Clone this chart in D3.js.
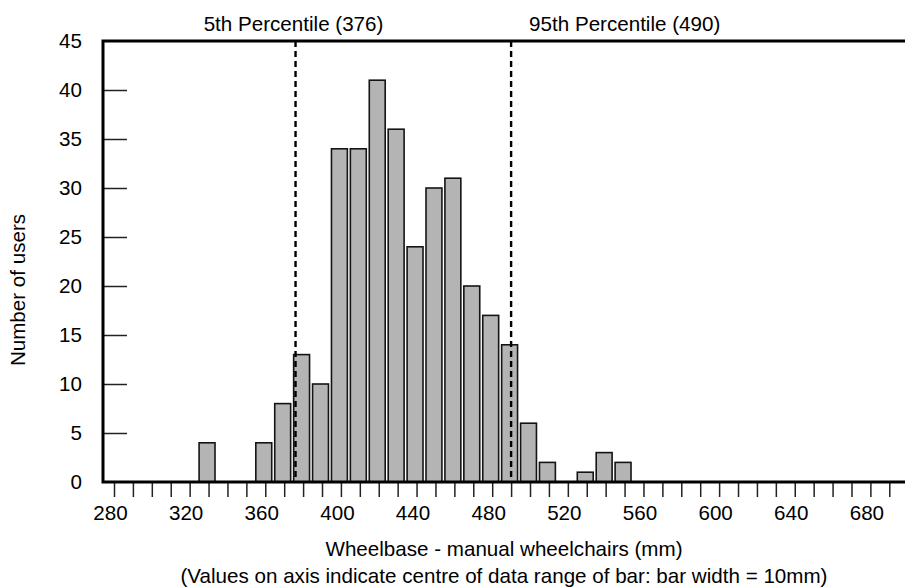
<!DOCTYPE html>
<html>
<head>
<meta charset="utf-8">
<script src="https://cdn.jsdelivr.net/npm/d3@7"></script>
<style>
  html, body { margin: 0; padding: 0; background: #fff; }
  svg { display: block; font-family: "Liberation Sans", Arial, Helvetica, sans-serif; }
</style>
</head>
<body>
<svg id="chart" width="905" height="587"></svg>
<script>
// Bin centres (mm) and number of users in each 10 mm bin
const binCentres = [330, 340, 350, 360, 370, 380, 390, 400, 410, 420, 430, 440, 450, 460, 470, 480, 490, 500, 510, 520, 530, 540, 550];
const userCounts = [4, 0, 0, 4, 8, 13, 10, 34, 34, 41, 36, 24, 30, 31, 20, 17, 14, 6, 2, 0, 1, 3, 2];
const binWidth = 10;

// Percentile markers
const percentileNames = ["5th Percentile", "95th Percentile"];
const percentileValues = [376, 490];

// Axis ticks
const xTickValues = d3.range(280, 700, 10);
const xTickLabels = [280, 320, 360, 400, 440, 480, 520, 560, 600, 640, 680];
const yTickValues = [0, 5, 10, 15, 20, 25, 30, 35, 40, 45];

const plotLeft = 103, plotTop = 41, plotBottom = 482, plotRight = 905;
const fontSize = 20.6;
const fontFamily = "Liberation Sans, Arial, sans-serif";

const svg = d3.select("#chart");

const x = d3.scaleLinear().domain([280, 690]).range([114, 889.3]);
const y = d3.scaleLinear().domain([0, 45]).range([plotBottom, plotTop]);

// Bars
svg.append("g")
  .selectAll("rect")
  .data(binCentres.map((c, i) => ({ c, n: userCounts[i] })).filter(d => d.n > 0))
  .join("rect")
  .attr("x", d => x(d.c - binWidth / 2))
  .attr("width", d => x(d.c + binWidth / 2) - x(d.c - binWidth / 2) - 3)
  .attr("y", d => y(d.n))
  .attr("height", d => y(0) - y(d.n))
  .attr("fill", "#b4b4b4")
  .attr("stroke", "#141414")
  .attr("stroke-width", 1.6);

// Percentile lines
svg.append("g")
  .selectAll("line")
  .data(percentileValues)
  .join("line")
  .attr("x1", d => x(d)).attr("x2", d => x(d))
  .attr("y1", plotTop).attr("y2", plotBottom)
  .attr("stroke", "#000")
  .attr("stroke-width", 2.4)
  .attr("stroke-dasharray", "6,4");

// Percentile labels
svg.append("text")
  .attr("x", x(percentileValues[0]) - 2)
  .attr("y", 31)
  .attr("text-anchor", "middle")
  .attr("font-size", fontSize)
  .text(`${percentileNames[0]} (${percentileValues[0]})`);
svg.append("text")
  .attr("x", x(percentileValues[1]) + 18)
  .attr("y", 31)
  .attr("text-anchor", "start")
  .attr("font-size", fontSize)
  .text(`${percentileNames[1]} (${percentileValues[1]})`);

// X axis: ticks below the baseline
const xAxis = d3.axisBottom(x)
  .tickValues(xTickValues)
  .tickSize(15)
  .tickFormat(d => xTickLabels.includes(d) ? d : "");
const gx = svg.append("g").attr("transform", `translate(0,${plotBottom})`).call(xAxis);
gx.select(".domain").remove();
gx.selectAll(".tick line").attr("stroke", "#222").attr("stroke-width", 1.5);
gx.selectAll(".tick text")
  .attr("font-size", fontSize)
  .attr("font-family", fontFamily)
  .attr("fill", "#000")
  .attr("dx", -4)
  .attr("y", 23)
  .attr("dy", "0.71em");

// Y axis: ticks pointing into the plot
const yAxis = d3.axisLeft(y)
  .tickValues(yTickValues)
  .tickSize(0)
  .tickPadding(21);
const gy = svg.append("g").attr("transform", `translate(${plotLeft},0)`).call(yAxis);
gy.select(".domain").remove();
gy.selectAll(".tick text")
  .attr("font-size", fontSize)
  .attr("font-family", fontFamily)
  .attr("fill", "#000");
gy.selectAll(".tick")
  .filter(d => d > 0 && d < 45)
  .append("line")
  .attr("x1", 0).attr("x2", 24)
  .attr("stroke", "#222").attr("stroke-width", 1.5);

// Frame: left, top and bottom lines
svg.append("path")
  .attr("d", `M${plotRight},${plotTop}H${plotLeft}V${plotBottom}H${plotRight}`)
  .attr("fill", "none")
  .attr("stroke", "#000")
  .attr("stroke-width", 3);

// Axis titles
svg.append("text")
  .attr("transform", `translate(25,290) rotate(-90)`)
  .attr("text-anchor", "middle")
  .attr("font-size", fontSize)
  .text("Number of users");
svg.append("text")
  .attr("x", 504).attr("y", 556)
  .attr("text-anchor", "middle")
  .attr("font-size", fontSize)
  .text("Wheelbase - manual wheelchairs (mm)");
svg.append("text")
  .attr("x", 504).attr("y", 583)
  .attr("text-anchor", "middle")
  .attr("font-size", fontSize)
  .text("(Values on axis indicate centre of data range of bar: bar width = 10mm)");
</script>
</body>
</html>
